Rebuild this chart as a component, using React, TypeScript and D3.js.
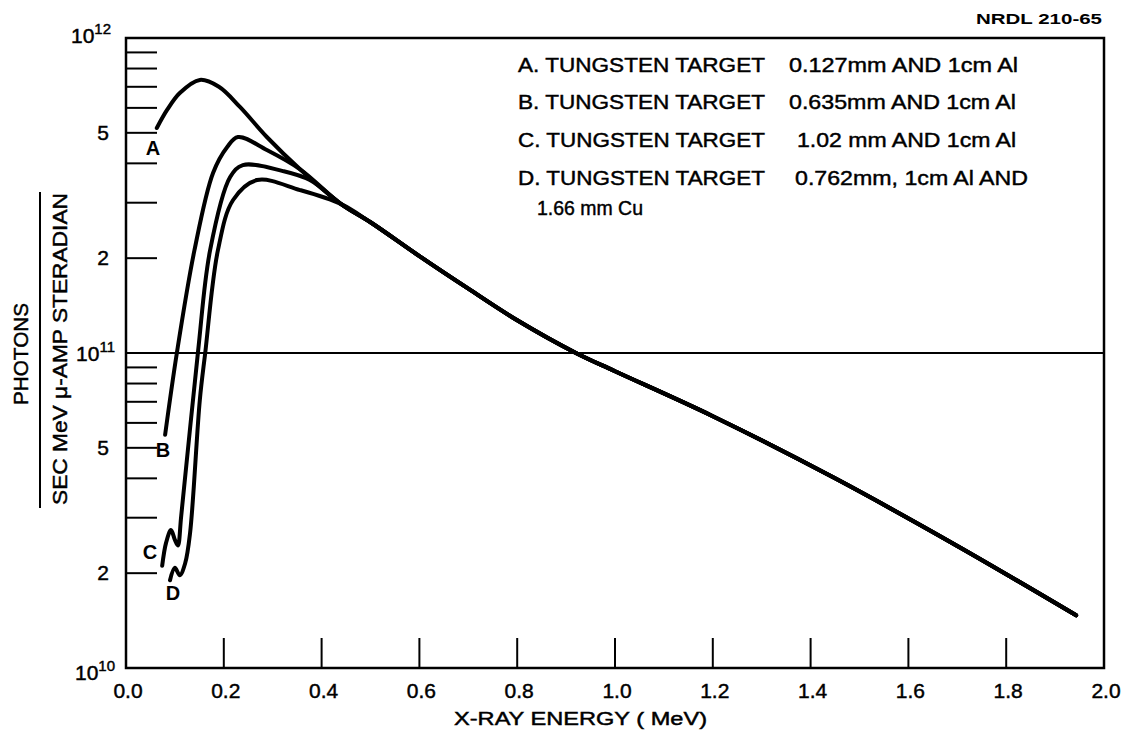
import { useRef, useEffect } from "react";
import * as d3 from "d3";

// photons / (sec MeV µ-amp steradian) vs x-ray energy (MeV)
// part shared by all four spectra once they have merged
const tailEnergy = [0.44, 0.5, 0.6, 0.7, 0.8, 0.92, 1.0, 1.2, 1.45, 1.7, 1.943];
const tailFlux = [2.97e11, 2.6e11, 2.03e11, 1.6e11, 1.27e11, 1.0e11, 8.75e10, 6.3e10, 4.0e10, 2.44e10, 1.47e10];

const energyA = [0.063, 0.084, 0.11, 0.151, 0.19, 0.233, 0.288, 0.356];
const fluxA = [5.18e11, 5.91e11, 6.69e11, 7.36e11, 7.0e11, 6.04e11, 4.85e11, 3.83e11];

const energyB = [0.08, 0.104, 0.14, 0.178, 0.207, 0.229, 0.288, 0.356];
const fluxB = [5.5e10, 1.0e11, 2.12e11, 3.73e11, 4.51e11, 4.85e11, 4.41e11, 3.83e11];

const energyC = [0.074, 0.082, 0.092, 0.1, 0.106, 0.113, 0.147, 0.172, 0.213, 0.239, 0.321, 0.376];
const fluxC = [2.11e10, 2.5e10, 2.74e10, 2.55e10, 2.45e10, 3.05e10, 1.0e11, 2.12e11, 3.62e11, 3.95e11, 3.78e11, 3.54e11];

const energyD = [0.09, 0.1, 0.11, 0.121, 0.131, 0.151, 0.162, 0.188, 0.219, 0.268, 0.356];
const fluxD = [1.9e10, 2.08e10, 1.97e10, 2.15e10, 2.68e10, 7.1e10, 1.0e11, 2.12e11, 3.06e11, 3.54e11, 3.29e11];

const curveNames = ["A", "B", "C", "D"];
const xTicks = [0, 0.2, 0.4, 0.6, 0.8, 1.0, 1.2, 1.4, 1.6, 1.8, 2.0];

const legendLines = [
  ["A. TUNGSTEN TARGET", "0.127mm AND 1cm Al"],
  ["B. TUNGSTEN TARGET", "0.635mm AND 1cm Al"],
  ["C. TUNGSTEN TARGET", "1.02 mm AND 1cm Al"],
  ["D. TUNGSTEN TARGET", "0.762mm, 1cm Al AND"],
];

const FONT = "'Liberation Sans', Arial, sans-serif";

const Chart = () => {
  const svgRef = useRef(null);

  useEffect(() => {
    const svg = d3.select(svgRef.current);
    svg.selectAll("*").remove();

    const x = d3.scaleLinear().domain([0, 2]).range([126, 1104]);
    const y = d3.scaleLog().domain([1e10, 1e12]).range([668, 38]);

    // lettering is a bit heavier than a plain sans
    const label = (sel: any, size: number) =>
      sel
        .attr("font-family", FONT)
        .attr("font-size", size)
        .attr("fill", "#000")
        .attr("stroke", "#000")
        .attr("stroke-width", 0.45);

    // frame
    svg
      .append("rect")
      .attr("x", x(0))
      .attr("y", y(1e12))
      .attr("width", x(2) - x(0))
      .attr("height", y(1e10) - y(1e12))
      .attr("fill", "none")
      .attr("stroke", "#000")
      .attr("stroke-width", 2.5);

    // 10^11 line across
    svg
      .append("line")
      .attr("x1", x(0))
      .attr("x2", x(2))
      .attr("y1", y(1e11))
      .attr("y2", y(1e11))
      .attr("stroke", "#000")
      .attr("stroke-width", 2);

    // minor log ticks on the left
    const minor: number[] = [];
    [1e10, 1e11].forEach(d => {
      for (let m = 2; m <= 9; m++) minor.push(m * d);
    });
    svg
      .selectAll(".ytick")
      .data(minor)
      .enter()
      .append("line")
      .attr("x1", x(0))
      .attr("x2", x(0) + 31)
      .attr("y1", d => y(d))
      .attr("y2", d => y(d))
      .attr("stroke", "#000")
      .attr("stroke-width", 2);

    // x ticks pointing up
    svg
      .selectAll(".xtick")
      .data(xTicks.slice(1, -1))
      .enter()
      .append("line")
      .attr("x1", d => x(d))
      .attr("x2", d => x(d))
      .attr("y1", y(1e10))
      .attr("y2", y(1e10) - 30)
      .attr("stroke", "#000")
      .attr("stroke-width", 2);

    label(
      svg
        .selectAll(".xlabel")
        .data(xTicks)
        .enter()
        .append("text")
        .attr("x", d => x(d) + 2)
        .attr("y", 698)
        .attr("text-anchor", "middle"),
      21
    ).text(d => d3.format(".1f")(d));

    label(svg.append("text").attr("x", 454).attr("y", 725), 18)
      .attr("textLength", 253)
      .attr("lengthAdjust", "spacingAndGlyphs")
      .text("X-RAY ENERGY ( MeV)");

    // y labels
    const yLabels = [
      { v: 5e11, t: "5" },
      { v: 2e11, t: "2" },
      { v: 5e10, t: "5" },
      { v: 2e10, t: "2" },
    ];
    label(
      svg
        .selectAll(".ylabel")
        .data(yLabels)
        .enter()
        .append("text")
        .attr("x", 109)
        .attr("y", d => y(d.v) + 7)
        .attr("text-anchor", "end"),
      21
    ).text(d => d.t);

    const decades = [
      { exp: "12", right: 111, base: 43 },
      { exp: "11", right: 115, base: 361 },
      { exp: "10", right: 115, base: 680 },
    ];
    decades.forEach(d => {
      const t = label(
        svg.append("text").attr("x", d.right).attr("y", d.base).attr("text-anchor", "end"),
        21
      );
      t.append("tspan").text("10");
      t.append("tspan").attr("dy", -9).attr("font-size", 15).text(d.exp);
    });

    // y axis title as a fraction
    label(
      svg
        .append("text")
        .attr("transform", "translate(28, 354) rotate(-90)")
        .attr("text-anchor", "middle"),
      21
    )
      .attr("textLength", 102)
      .attr("lengthAdjust", "spacingAndGlyphs")
      .text("PHOTONS");
    svg
      .append("line")
      .attr("x1", 40)
      .attr("x2", 40)
      .attr("y1", 192)
      .attr("y2", 508)
      .attr("stroke", "#000")
      .attr("stroke-width", 2);
    label(
      svg
        .append("text")
        .attr("transform", "translate(67, 349) rotate(-90)")
        .attr("text-anchor", "middle"),
      21
    )
      .attr("textLength", 312)
      .attr("lengthAdjust", "spacingAndGlyphs")
      .text("SEC MeV \u03bc-AMP STERADIAN");

    // curves
    const line = d3
      .line<[number, number]>()
      .x(d => x(d[0]))
      .y(d => y(d[1]))
      .curve(d3.curveCatmullRom.alpha(0.5));

    const tail = tailEnergy.map((e, i) => [e, tailFlux[i]] as [number, number]);
    const series = [
      [energyA, fluxA],
      [energyB, fluxB],
      [energyC, fluxC],
      [energyD, fluxD],
    ].map(([es, fs]) => es.map((e, i) => [e, fs[i]] as [number, number]).concat(tail));

    svg
      .selectAll(".curve")
      .data(series)
      .enter()
      .append("path")
      .attr("d", d => line(d))
      .attr("fill", "none")
      .attr("stroke", "#000")
      .attr("stroke-width", 4)
      .attr("stroke-linecap", "round")
      .attr("stroke-linejoin", "round");

    // curve letters
    const letterPos = [
      [153, 155],
      [163, 457],
      [150, 559],
      [173, 600],
    ];
    svg
      .selectAll(".letter")
      .data(curveNames)
      .enter()
      .append("text")
      .attr("x", (_d, i) => letterPos[i][0])
      .attr("y", (_d, i) => letterPos[i][1])
      .attr("text-anchor", "middle")
      .attr("font-family", FONT)
      .attr("font-weight", "bold")
      .attr("font-size", 20)
      .text(d => d);

    // legend
    const legendY = [72, 109, 147, 185];
    const secondX = [789, 789, 797, 795];
    const secondLen = [229, 227, 219, 233];
    legendLines.forEach((parts, i) => {
      label(svg.append("text").attr("x", 518).attr("y", legendY[i]), 21)
        .attr("textLength", 247)
        .attr("lengthAdjust", "spacingAndGlyphs")
        .text(parts[0]);
      label(svg.append("text").attr("x", secondX[i]).attr("y", legendY[i]), 21)
        .attr("textLength", secondLen[i])
        .attr("lengthAdjust", "spacingAndGlyphs")
        .text(parts[1]);
    });
    label(svg.append("text").attr("x", 537).attr("y", 215), 21)
      .attr("textLength", 106)
      .attr("lengthAdjust", "spacingAndGlyphs")
      .text("1.66 mm Cu");

    svg
      .append("text")
      .attr("x", 1102)
      .attr("y", 24)
      .attr("text-anchor", "end")
      .attr("font-family", FONT)
      .attr("font-weight", "bold")
      .attr("font-size", 14)
      .attr("textLength", 126)
      .attr("lengthAdjust", "spacingAndGlyphs")
      .text("NRDL 210-65");
  }, []);

  return (
    <svg
      ref={svgRef}
      width={1128}
      height={738}
      style={{ position: "absolute", left: 0, top: 0, background: "#fff" }}
    />
  );
};

export default function App() {
  return <Chart />;
}
